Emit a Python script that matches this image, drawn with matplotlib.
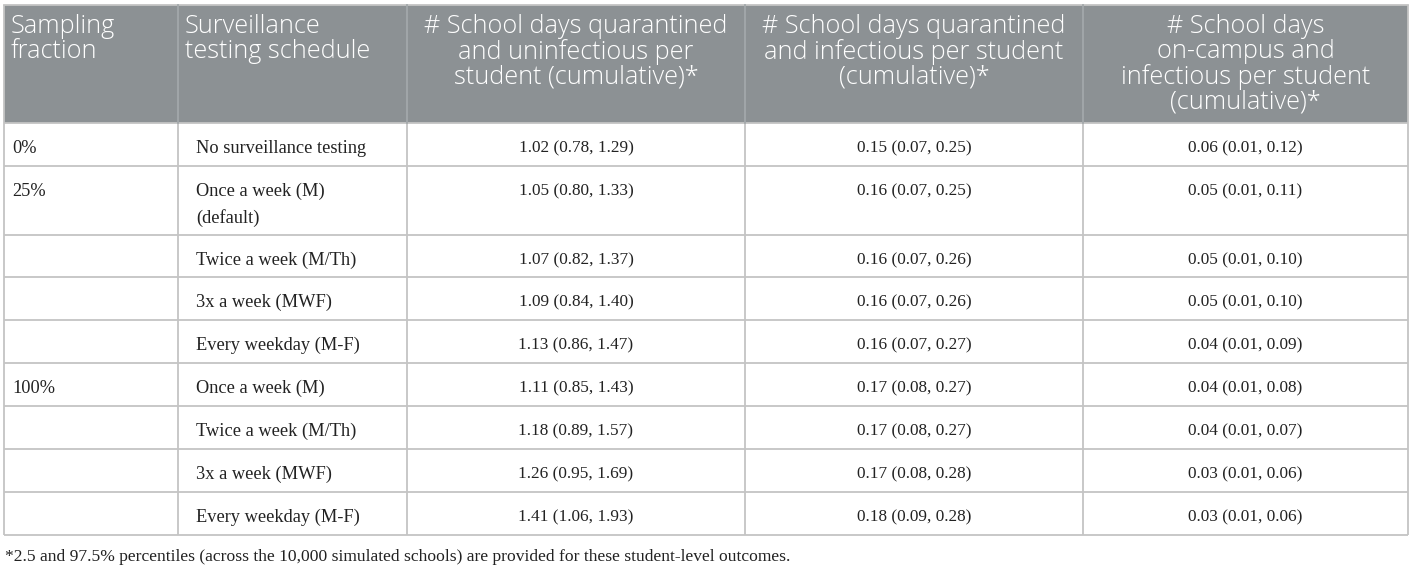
import matplotlib
matplotlib.use("Agg")
import matplotlib.pyplot as plt
from matplotlib.patches import Rectangle

# table content
headers = [
    "Sampling\nfraction",
    "Surveillance\ntesting schedule",
    "# School days quarantined\nand uninfectious per\nstudent (cumulative)*",
    "# School days quarantined\nand infectious per student\n(cumulative)*",
    "# School days\non-campus and\ninfectious per student\n(cumulative)*",
]
sampling = ["0%", "25%", "", "", "", "100%", "", "", ""]
schedule = [
    "No surveillance testing",
    "Once a week (M)\n(default)",
    "Twice a week (M/Th)",
    "3x a week (MWF)",
    "Every weekday (M-F)",
    "Once a week (M)",
    "Twice a week (M/Th)",
    "3x a week (MWF)",
    "Every weekday (M-F)",
]
quar_uninfectious = [
    "1.02 (0.78, 1.29)", "1.05 (0.80, 1.33)", "1.07 (0.82, 1.37)",
    "1.09 (0.84, 1.40)", "1.13 (0.86, 1.47)", "1.11 (0.85, 1.43)",
    "1.18 (0.89, 1.57)", "1.26 (0.95, 1.69)", "1.41 (1.06, 1.93)",
]
quar_infectious = [
    "0.15 (0.07, 0.25)", "0.16 (0.07, 0.25)", "0.16 (0.07, 0.26)",
    "0.16 (0.07, 0.26)", "0.16 (0.07, 0.27)", "0.17 (0.08, 0.27)",
    "0.17 (0.08, 0.27)", "0.17 (0.08, 0.28)", "0.18 (0.09, 0.28)",
]
campus_infectious = [
    "0.06 (0.01, 0.12)", "0.05 (0.01, 0.11)", "0.05 (0.01, 0.10)",
    "0.05 (0.01, 0.10)", "0.04 (0.01, 0.09)", "0.04 (0.01, 0.08)",
    "0.04 (0.01, 0.07)", "0.03 (0.01, 0.06)", "0.03 (0.01, 0.06)",
]
footnote = ("*2.5 and 97.5% percentiles (across the 10,000 simulated schools) "
            "are provided for these student-level outcomes.")

# layout in pixels
W, H = 1411, 566
col_edges = [4, 178, 407, 745, 1083, 1408]
header_top, header_bottom = 5, 123
row_heights = [43, 69, 42, 43, 43, 43, 43, 43, 43]
line_color = "#c4c4c4"
header_color = "#8c9194"

fig = plt.figure(figsize=(W / 100, H / 100), dpi=100)
ax = fig.add_axes([0, 0, 1, 1])
ax.set_xlim(0, W)
ax.set_ylim(H, 0)
ax.axis("off")

# header
ax.add_patch(Rectangle((col_edges[0], header_top), col_edges[-1] - col_edges[0],
                       header_bottom - header_top, facecolor=header_color,
                       edgecolor="none"))
for i, text in enumerate(headers):
    left, right = col_edges[i], col_edges[i + 1]
    if i < 2:
        x, ha = left + 7, "left"
    else:
        x, ha = (left + right) / 2, "center"
    ax.text(x, header_top + 9, text, ha=ha, va="top", color="white",
            fontsize=18.2, family="Open Sans", fontweight="light",
            linespacing=1.0, multialignment=ha)

# row boundaries
row_edges = [header_bottom]
for h in row_heights:
    row_edges.append(row_edges[-1] + h)

columns = [sampling, schedule, quar_uninfectious, quar_infectious, campus_infectious]
for r in range(len(schedule)):
    top = row_edges[r]
    for c, col in enumerate(columns):
        left, right = col_edges[c], col_edges[c + 1]
        size = 13.2
        if c == 0:
            x, ha = left + 8, "left"
        elif c == 1:
            x, ha = left + 18, "left"
        else:
            x, ha = (left + right) / 2, "center"
            size = 12.4
        ax.text(x, top + 17 + (13.2 - size), col[r], ha=ha, va="top",
                color="#222222", fontsize=size, family="Liberation Serif",
                linespacing=1.6)

# grid lines
for y in row_edges:
    ax.plot([col_edges[0], col_edges[-1]], [y, y], color=line_color, lw=1.3,
            solid_capstyle="butt")
for i, x in enumerate(col_edges):
    ax.plot([x, x], [header_top, row_edges[-1]], color=line_color,
            lw=1.3, solid_capstyle="butt", zorder=0.5 if 0 < i < 5 else 2)
ax.plot([col_edges[0], col_edges[-1]], [header_top, header_top],
        color=line_color, lw=1.3)
# lighter separators inside header
for x in col_edges[1:-1]:
    ax.plot([x, x], [header_top, header_bottom], color="#a3a8ab", lw=1.3)

ax.text(col_edges[0] + 1, row_edges[-1] + 22, footnote, ha="left", va="center",
        color="#222222", fontsize=12.6, family="Liberation Serif")

fig.savefig("out.png", dpi=100)
